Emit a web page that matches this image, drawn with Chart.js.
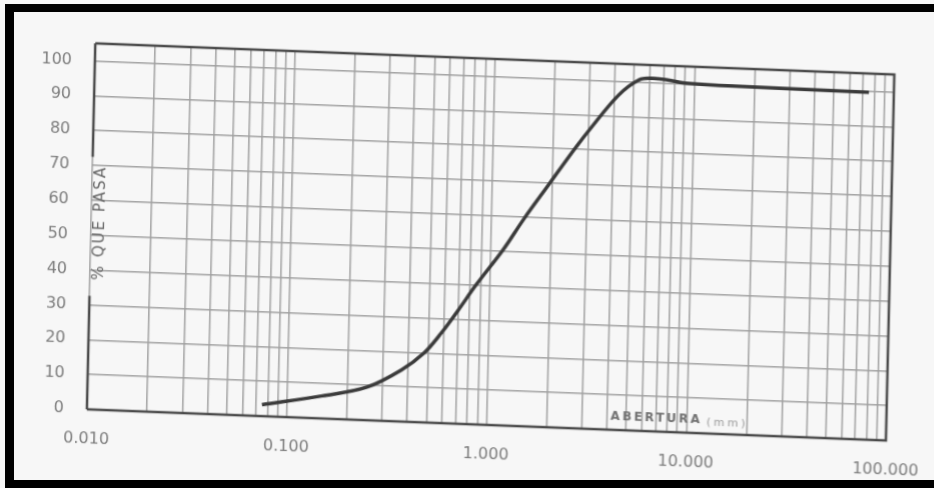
<!DOCTYPE html>
<html>
<head>
<meta charset="utf-8">
<script src="https://cdn.jsdelivr.net/npm/chart.js@4.4.1/dist/chart.umd.min.js"></script>
<style>
  html, body { margin: 0; padding: 0; }
  body { width: 934px; height: 488px; position: relative; overflow: hidden; background: #f7f7f7; }
  /* hoja escaneada, un poco torcida */
  #hoja {
    position: absolute; left: 0; top: 0; width: 934px; height: 488px;
    transform-origin: 467px 244px;
    transform: matrix(1, 0.039, -0.023, 1, 0, 0);
  }
  #marco {
    position: absolute; left: 5px; top: 4px; right: 0; bottom: 0;
    box-sizing: border-box;
    border-left: 9px solid #000; border-top: 8px solid #000; border-bottom: 8px solid #000;
    pointer-events: none;
  }
</style>
</head>
<body>
<div id="hoja"><canvas id="granulometria" width="934" height="488"></canvas></div>
<div id="marco"></div>

<script>
/* Curva granulometrica */

// abertura del tamiz (mm) y % que pasa
var tamices = [0.075, 0.15, 0.25, 0.37, 0.48, 0.58, 0.70, 0.855, 1.16, 1.46, 1.92, 2.56, 3.1, 4.2, 5.3, 6.1, 7.2, 9.0, 15, 30, 75];
var pasa    = [3.3,   6.5,  9.5,  14.8, 20,   25.8, 32.5, 40,    50.5, 59.5, 69.5, 80,   86.5, 96, 100.6, 101.2, 101, 100.2, 99.9, 99.8, 99.6];

// etiquetas de los ejes
var decadas = [0.01, 0.1, 1, 10, 100];
var marcasY = [0, 10, 20, 30, 40, 50, 60, 70, 80, 90, 100];

var colorTexto = '#7c7c7c';
var colorGrilla = '#a0a0a0';

// marco del papel, titulo vertical con hueco en el eje y titulo de abertura
var marcoGrafico = {
    id: 'marcoGrafico',
    beforeDatasetsDraw: function(chart) {
        var a = chart.chartArea;
        var c = chart.ctx;
        var h = a.bottom - a.top;
        c.save();
        c.strokeStyle = '#4a4a4a';
        c.lineWidth = 2.5;
        c.beginPath();
        c.moveTo(a.left, a.top);
        c.lineTo(a.right, a.top);
        c.lineTo(a.right, a.bottom);
        c.lineTo(a.left, a.bottom);
        c.moveTo(a.left, a.top);
        c.lineTo(a.left, a.top + h * 0.31);
        c.moveTo(a.left, a.top + h * 0.69);
        c.lineTo(a.left, a.bottom);
        c.stroke();

        // % QUE PASA
        c.save();
        c.translate(a.left + 9, a.top + h * 0.49);
        c.rotate(-Math.PI / 2);
        c.font = '15px "DejaVu Sans"';
        c.letterSpacing = '2px';
        c.fillStyle = '#666';
        c.textAlign = 'center';
        c.textBaseline = 'middle';
        c.fillText('% QUE PASA', 0, 0);
        c.restore();

        // ABERTURA (mm)
        var x0 = a.left + (a.right - a.left) * 0.655;
        var y0 = a.bottom - 10;
        c.fillStyle = '#707070';
        c.textAlign = 'left';
        c.textBaseline = 'alphabetic';
        c.font = 'bold 12px "DejaVu Sans"';
        c.letterSpacing = '2.5px';
        c.fillText('ABERTURA', x0, y0);
        var w = c.measureText('ABERTURA').width;
        c.font = '11px "DejaVu Sans"';
        c.letterSpacing = '3px';
        c.fillStyle = '#999';
        c.fillText('(mm)', x0 + w + 4, y0 + 2);
        c.restore();
    }
};

var ctx = document.getElementById('granulometria');

var chartGraph = new Chart(ctx, {
    type: 'line',
    data: {
        datasets: [{
            label: '% que pasa',
            data: tamices.map(function(t, i) { return { x: t, y: pasa[i] }; }),
            borderColor: '#3a3a3a',
            borderWidth: 3.5,
            pointRadius: 0,
            tension: 0.35,
            fill: false
        }]
    },
    plugins: [marcoGrafico],
    options: {
        responsive: false,
        animation: false,
        devicePixelRatio: 1,
        layout: { padding: { left: 21, right: 44, top: 58, bottom: 0 } },
        plugins: {
            legend: { display: false },
            tooltip: { enabled: false }
        },
        scales: {
            x: {
                type: 'logarithmic',
                min: 0.01,
                max: 100,
                afterBuildTicks: function(s) {
                    var t = [];
                    decadas.forEach(function(d) {
                        for (var k = 1; k < 10; k++) {
                            if (d * k <= 100.0001) t.push({ value: d * k });
                        }
                    });
                    s.ticks = t;
                },
                afterFit: function(s) {
                    s.height = 64;
                    s.paddingLeft = 0;
                    s.paddingRight = 0;
                },
                ticks: {
                    autoSkip: false,
                    maxRotation: 0,
                    padding: 20,
                    color: colorTexto,
                    font: { family: '"DejaVu Sans"', size: 16 },
                    callback: function(v) {
                        return decadas.indexOf(v) >= 0 ? v.toFixed(3) : '';
                    }
                },
                grid: { color: colorGrilla, lineWidth: 1.5, drawTicks: false },
                border: { display: false }
            },
            y: {
                min: 0,
                max: 105,
                afterBuildTicks: function(s) {
                    s.ticks = marcasY.map(function(v) { return { value: v }; });
                },
                afterFit: function(s) {
                    s.width = 70;
                    s.paddingTop = 0;
                    s.paddingBottom = 0;
                },
                ticks: {
                    padding: 23,
                    color: colorTexto,
                    font: { family: '"DejaVu Sans"', size: 16 }
                },
                grid: { color: colorGrilla, lineWidth: 1.5, drawTicks: false },
                border: { display: false }
            }
        }
    }
});
</script>
</body>
</html>
